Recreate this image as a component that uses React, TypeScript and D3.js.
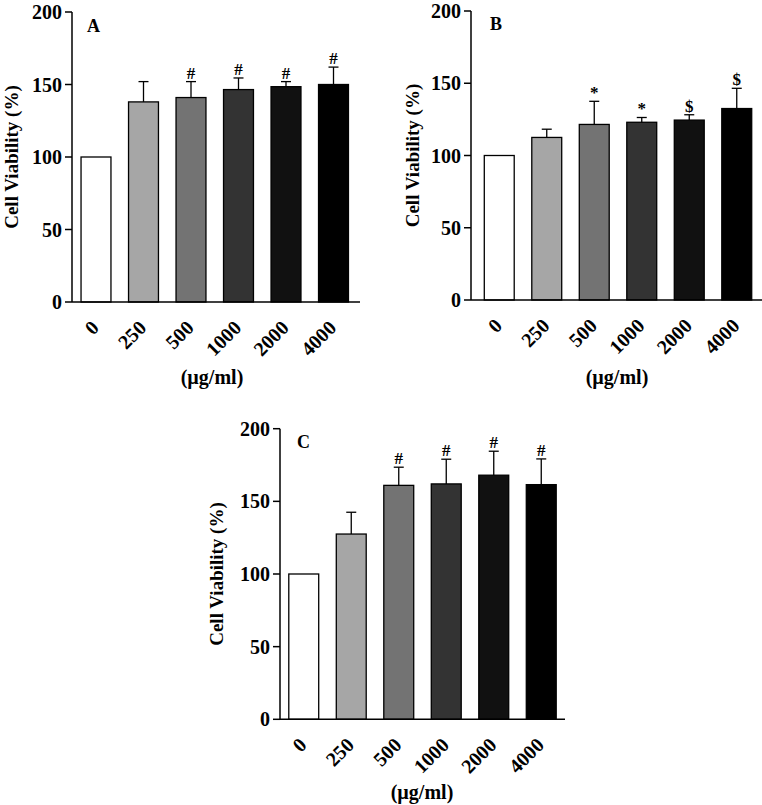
import React from 'react';
import * as d3 from 'd3';

const doses = ['0', '250', '500', '1000', '2000', '4000'];
const barFills = ['#ffffff', '#a6a6a6', '#737373', '#333333', '#111111', '#000000'];
const yTicks = [0, 50, 100, 150, 200];

const meanA = [100, 138, 141, 146.5, 148.5, 150];
const errA = [0, 14, 11, 8, 3.5, 12];
const sigA = ['', '', '#', '#', '#', '#'];

const meanB = [100, 112.5, 121.5, 123, 124.5, 132.5];
const errB = [0, 5.7, 16, 3.3, 3.7, 14];
const sigB = ['', '', '*', '*', '$', '$'];

const meanC = [100, 127.5, 161, 162, 168, 161.5];
const errC = [0, 15, 12.5, 17, 16.5, 17.7];
const sigC = ['', '', '#', '#', '#', '#'];

const FONT = '"Liberation Serif", "Times New Roman", serif';

interface PanelProps {
  letter: string;
  means: number[];
  errs: number[];
  sigs: string[];
  axisX: number;
  top: number;
  bottom: number;
  bandStart: number;
  xEnd: number;
  letterPos: [number, number];
  yTitleX: number;
  xTitlePos: [number, number];
}

function Panel(p: PanelProps) {
  const x = d3.scaleBand<string>()
    .domain(doses)
    .range([p.bandStart, p.bandStart + 285])
    .paddingInner(0.37)
    .paddingOuter(0.185);
  const y = d3.scaleLinear().domain([0, 200]).range([p.bottom, p.top]);
  const bw = x.bandwidth();
  const cap = 5;

  return (
    <g fontFamily={FONT} fontWeight="bold">
      {/* bars */}
      {doses.map((d, i) => (
        <rect key={'b' + d}
          x={x(d)!} y={y(p.means[i])}
          width={bw} height={y(0) - y(p.means[i])}
          fill={barFills[i]} stroke="#000" strokeWidth={1.3} />
      ))}
      {/* error bars */}
      {doses.map((d, i) => {
        if (!p.errs[i]) return null;
        const cx = x(d)! + bw / 2;
        const top = y(p.means[i] + p.errs[i]);
        return (
          <g key={'e' + d} stroke="#000" strokeWidth={1.3}>
            <line x1={cx} x2={cx} y1={y(p.means[i])} y2={top} />
            <line x1={cx - cap} x2={cx + cap} y1={top} y2={top} />
          </g>
        );
      })}
      {/* significance marks */}
      {doses.map((d, i) => p.sigs[i] ? (
        <text key={'s' + d} x={x(d)! + bw / 2} y={y(p.means[i] + p.errs[i]) - 3}
          textAnchor="middle" fontSize={17}>{p.sigs[i]}</text>
      ) : null)}
      {/* axes */}
      <line x1={p.axisX} x2={p.axisX} y1={y(200)} y2={y(0)} stroke="#000" strokeWidth={1.5} />
      <line x1={p.axisX} x2={p.xEnd} y1={y(0)} y2={y(0)} stroke="#000" strokeWidth={1.5} />
      {yTicks.map((t) => (
        <g key={'t' + t}>
          <line x1={p.axisX - 7} x2={p.axisX} y1={y(t)} y2={y(t)} stroke="#000" strokeWidth={1.5} />
          <text x={p.axisX - 10} y={y(t)} dy="0.35em" textAnchor="end" fontSize={20}>{t}</text>
        </g>
      ))}
      {doses.map((d) => (
        <text key={'x' + d} textAnchor="end" fontSize={20}
          transform={`translate(${x(d)! + bw / 2 + 4},${y(0) + 27}) rotate(-45)`}>{d}</text>
      ))}
      {/* titles */}
      <text x={p.letterPos[0]} y={p.letterPos[1]} fontSize={18}>{p.letter}</text>
      <text transform={`translate(${p.yTitleX},${(y(0) + y(200)) / 2}) rotate(-90)`}
        textAnchor="middle" fontSize={19}>Cell Viability (%)</text>
      <text x={p.xTitlePos[0]} y={p.xTitlePos[1]} textAnchor="middle" fontSize={20}>(µg/ml)</text>
    </g>
  );
}

export default function App() {
  return (
    <svg width={762} height={805} style={{ position: 'absolute', left: 0, top: 0, background: '#fff' }}>
      <Panel letter="A" means={meanA} errs={errA} sigs={sigA}
        axisX={72} top={12} bottom={302} bandStart={72.25} xEnd={360}
        letterPos={[87, 32]} yTitleX={17.5} xTitlePos={[212, 384]} />
      <Panel letter="B" means={meanB} errs={errB} sigs={sigB}
        axisX={471} top={11} bottom={300} bandStart={475.5} xEnd={762}
        letterPos={[490, 30]} yTitleX={419} xTitlePos={[617, 384]} />
      <Panel letter="C" means={meanC} errs={errC} sigs={sigC}
        axisX={280} top={428.7} bottom={719.3} bandStart={280} xEnd={565}
        letterPos={[297, 448]} yTitleX={223} xTitlePos={[422, 799]} />
    </svg>
  );
}
